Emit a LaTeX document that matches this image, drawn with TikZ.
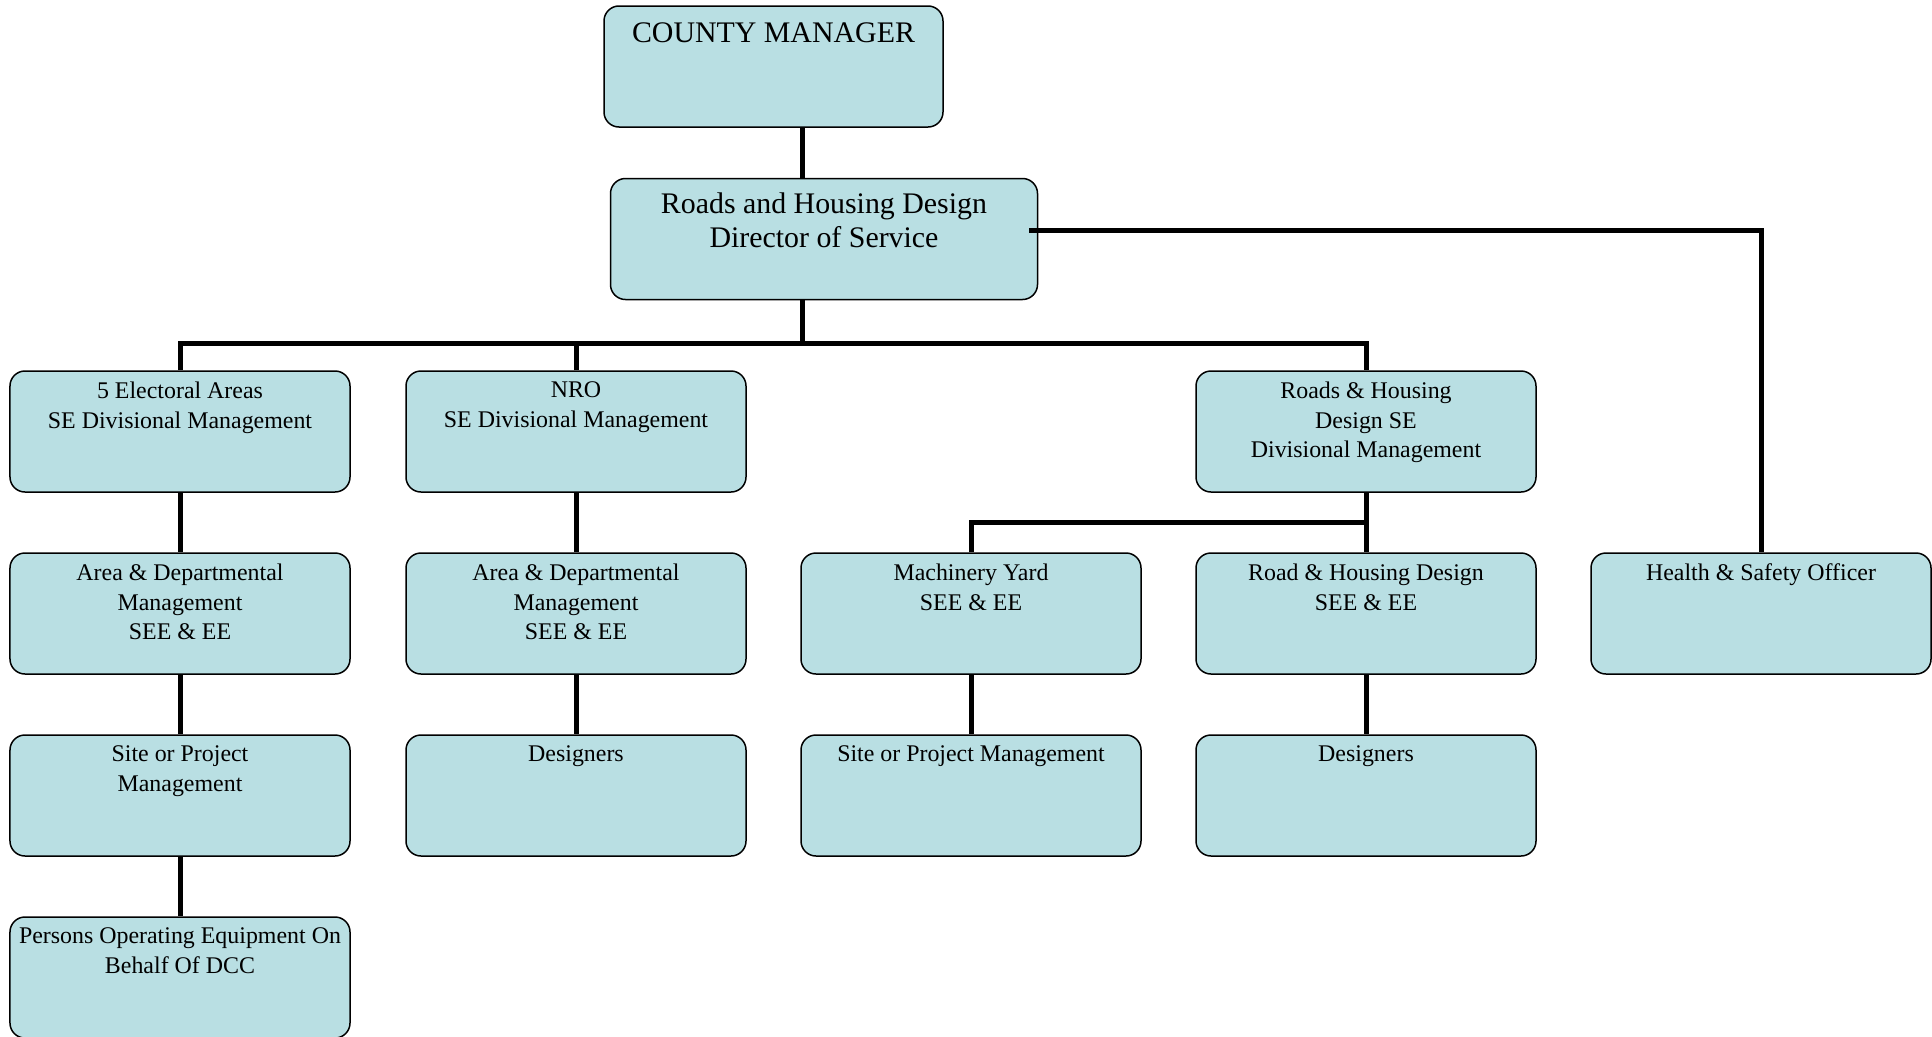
\documentclass[tikz,border=0pt]{standalone}
\usepackage{fontspec}
\setmainfont{Liberation Serif}
\usetikzlibrary{calc}
\definecolor{paleblue}{HTML}{B9DFE3}

\begin{document}
\begin{tikzpicture}[x=0.2mm, y=-0.2mm,
  unit/.style={draw=black, line width=0.3mm, fill=paleblue, rounded corners=3mm,
               inner sep=0pt, font=\fontsize{13.6}{16.8}\selectfont,
               execute at begin node={\begin{minipage}[t][24.2mm][t]{#1}\centering\vspace*{2.2mm}},
               execute at end node={\end{minipage}}},
  unit/.default=68mm,
  topunit/.style={unit=#1, font=\fontsize{17}{19.6}\selectfont},
  link/.style={black, line width=1mm}
]

\useasboundingbox (0,0) rectangle (1932,1036);

% Top of the chart
\node[topunit=67.8mm] (cm) at (773.5,66.5) {\vspace*{1.2mm}COUNTY MANAGER};
\node[topunit=85.4mm] (dos) at (824,239) {\vspace*{0.6mm}Roads and Housing Design\\Director of Service};

% Divisional management
\node[unit] (ea-se) at (180,431.5) {5 Electoral Areas\\SE Divisional Management};
\node[unit] (nro-se) at (576,431.5) {NRO\\SE Divisional Management};
\node[unit] (rhd-se) at (1366,431.5) {Roads \& Housing\\Design SE\\Divisional Management};

% SEE & EE level
\node[unit] (ea-adm) at (180,613.5) {Area \& Departmental\\Management\\SEE \& EE};
\node[unit] (nro-adm) at (576,613.5) {Area \& Departmental\\Management\\SEE \& EE};
\node[unit] (my-see) at (971,613.5) {Machinery Yard\\SEE \& EE};
\node[unit] (rhd-see) at (1366,613.5) {Road \& Housing Design\\SEE \& EE};
\node[unit] (hs) at (1761,613.5) {Health \& Safety Officer};

% Lower levels
\node[unit] (ea-site) at (180,795.5) {Site or Project\\Management};
\node[unit] (nro-des) at (576,795.5) {Designers};
\node[unit] (my-site) at (971,795.5) {Site or Project Management};
\node[unit] (rhd-des) at (1366,795.5) {Designers};
\node[unit] (ea-ops) at (180,977.5) {Persons Operating Equipment On\\Behalf Of DCC};

% Connectors
\coordinate (spine) at (802,0);
\coordinate (bus) at (0,343);
\coordinate (bus2) at (0,522);

\draw[link] (cm.south -| spine) -- (dos.north -| spine);
\draw[link] (dos.south -| spine) -- (bus -| spine);
\draw[link] (ea-se.north) -- (ea-se.north |- bus) -- (rhd-se.north |- bus) -- (rhd-se.north);
\draw[link] (nro-se.north) -- (nro-se.north |- bus);
\draw[link] ($(dos.east)+(-9,-9)$) -| (hs.north);

\draw[link] (rhd-se.south) -- (rhd-see.north);
\draw[link] (my-see.north) -- (my-see.north |- bus2) -- (rhd-se.south |- bus2);

\draw[link] (ea-se) -- (ea-adm);
\draw[link] (ea-adm) -- (ea-site);
\draw[link] (ea-site) -- (ea-ops);
\draw[link] (nro-se) -- (nro-adm);
\draw[link] (nro-adm) -- (nro-des);
\draw[link] (my-see) -- (my-site);
\draw[link] (rhd-see) -- (rhd-des);

\end{tikzpicture}
\end{document}
